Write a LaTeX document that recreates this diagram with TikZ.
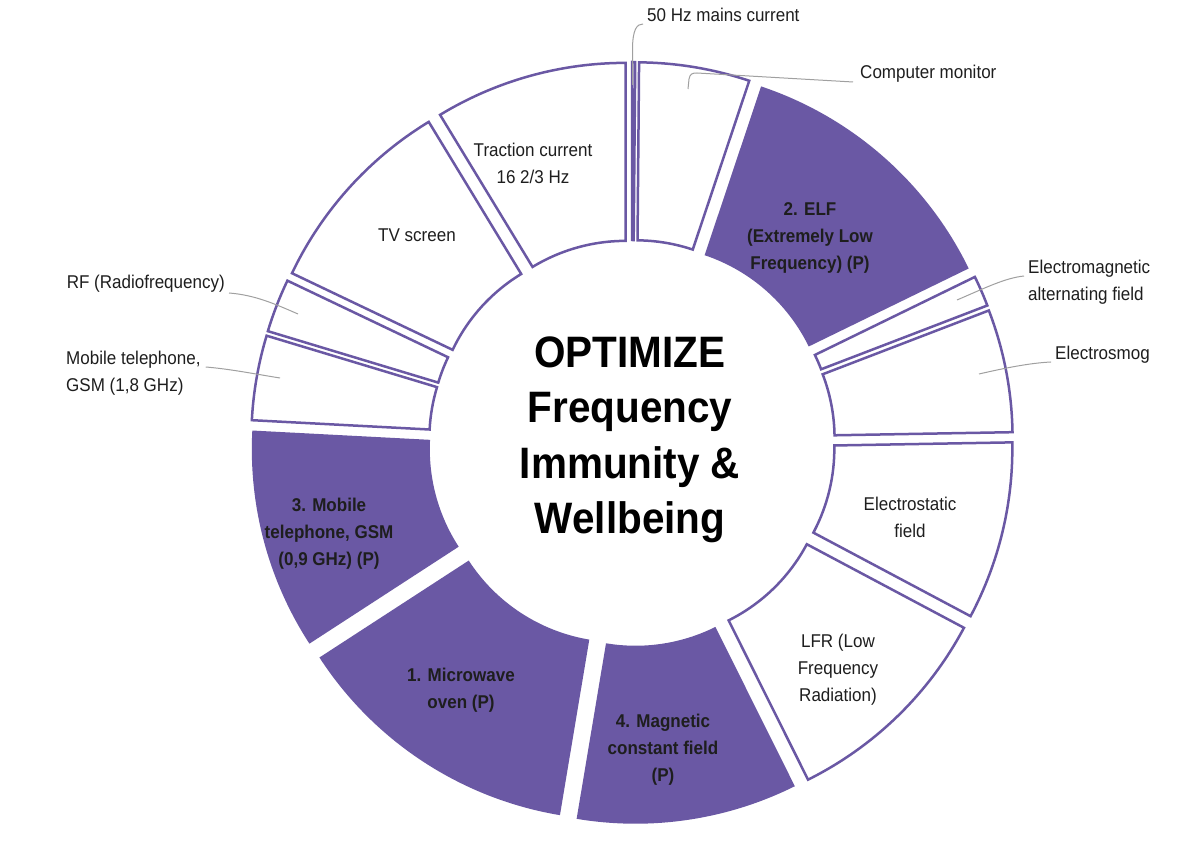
\documentclass[tikz,border=0pt]{standalone}
\usepackage{fontspec}
\setmainfont[FakeStretch=0.92]{Liberation Sans}
\usetikzlibrary{calc}
\definecolor{segpurple}{HTML}{6A58A4}
\definecolor{leadergray}{HTML}{A0A0A0}
\definecolor{txt}{HTML}{1E1E1E}
\def\rin{179pt}
\def\rout{357pt}
\def\explode{24pt}
\newcommand{\ringseg}[3]{%
  \pgfmathsetmacro{\segmid}{(#1+#2)/2}%
  \path[#3, shift={(\segmid:\explode)}] (#1:\rin) -- (#1:\rout)
    arc[start angle=#1, end angle=#2, radius=\rout] -- (#2:\rin)
    arc[start angle=#2, end angle=#1, radius=\rin] -- cycle;%
}
\tikzset{
  segopen/.style={draw=segpurple, line width=2.5pt, fill=white, line join=miter},
  segfill/.style={fill=segpurple},
  lab/.style={font=\fontsize{18.5}{27}\selectfont, text=txt, align=center, inner sep=0pt},
  blab/.style={lab, font=\fontsize{18.5}{27}\selectfont\bfseries},
  titletext/.style={font=\fontsize{44}{55.5}\selectfont\bfseries, text=black, align=center, inner sep=0pt},
  leader/.style={draw=leadergray, line width=1pt}
}
\begin{document}
\begin{tikzpicture}[x=1pt, y=1pt]
\fill[white] (0,0) rectangle (1204,844);
\useasboundingbox (0,0) rectangle (1204,844);

\begin{scope}[shift={(632,401)}]
  \ringseg{90}{89.5}{segopen}
  \ringseg{89.5}{71.5}{segopen}
  \ringseg{71.5}{26}{segfill}
  \ringseg{26}{21}{segopen}
  \ringseg{21}{1}{segopen}
  \ringseg{1}{-28}{segopen}
  \ringseg{-28}{-63.5}{segopen}
  \ringseg{-63.5}{-99.5}{segfill}
  \ringseg{-99.5}{-147}{segfill}
  \ringseg{-147}{-183}{segfill}
  \ringseg{-183}{-196.8}{segopen}
  \ringseg{-196.8}{-205.5}{segopen}
  \ringseg{-205.5}{-238.7}{segopen}
  \ringseg{-238.7}{-270}{segopen}
\end{scope}

% labels inside segments
\node[lab] (traction) at (533,681) {Traction current\\16 2/3 Hz};
\node[lab] (tv) at (417,609) {TV screen};
\node[blab] (elf) at (810,606) {2. ELF\\(Extremely Low\\Frequency) (P)};
\node[lab] (estatic) at (910,327) {Electrostatic\\field};
\node[lab] (lfr) at (838,174) {LFR (Low\\Frequency\\Radiation)};
\node[blab] (magnetic) at (663,94) {4. Magnetic\\constant field\\(P)};
\node[blab] (microwave) at (461,154) {1. Microwave\\oven (P)};
\node[blab] (mobile3) at (329,310) {3. Mobile\\telephone, GSM\\(0,9 GHz) (P)};

% centre title
\node[titletext] (title) at (630,404) {OPTIMIZE\\Frequency\\Immunity \&\\Wellbeing};

% outside labels
\node[lab, anchor=west] (l50) at (647,829) {50 Hz mains current};
\node[lab, anchor=west] (lMon) at (860,770) {Computer monitor};
\node[lab, anchor=west, align=left] (lEM) at (1028,562) {Electromagnetic\\alternating field};
\node[lab, anchor=west] (lSmog) at (1055,489) {Electrosmog};
\node[lab, anchor=east] (lRF) at (225,560) {RF (Radiofrequency)};
\node[lab, anchor=west, align=left] (lMob) at (66,471) {Mobile telephone,\\GSM (1,8 GHz)};

% leader start points inside segments
\coordinate (s50) at (632.5,759);
\coordinate (sMon) at (688,755);
\coordinate (sEM) at (957,544);
\coordinate (sSmog) at (979,470);
\coordinate (sRF) at (298,530);
\coordinate (sMob) at (280,466);

\draw[leader] (s50) -- (632.5,794) .. controls (632.5,815) and (637,820) .. ([xshift=-4pt,yshift=-9pt]l50.west);
\draw[leader] (sMon) -- (689,765) .. controls (690,770) and (692,771) .. (697,771) -- ([xshift=-7pt,yshift=-8pt]lMon.west);
\draw[leader] (sEM) .. controls (985,556) and (1005,566) .. ([xshift=-4pt,yshift=6pt]lEM.west);
\draw[leader] (sSmog) .. controls (1005,476) and (1030,481) .. ([xshift=-4pt,yshift=-7pt]lSmog.west);
\draw[leader] (sRF) .. controls (275,540) and (255,549) .. ([xshift=4pt,yshift=-9pt]lRF.east);
\draw[leader] (sMob) .. controls (255,470) and (230,475) .. ([xshift=5pt,yshift=6pt]lMob.east);
\end{tikzpicture}
\end{document}
